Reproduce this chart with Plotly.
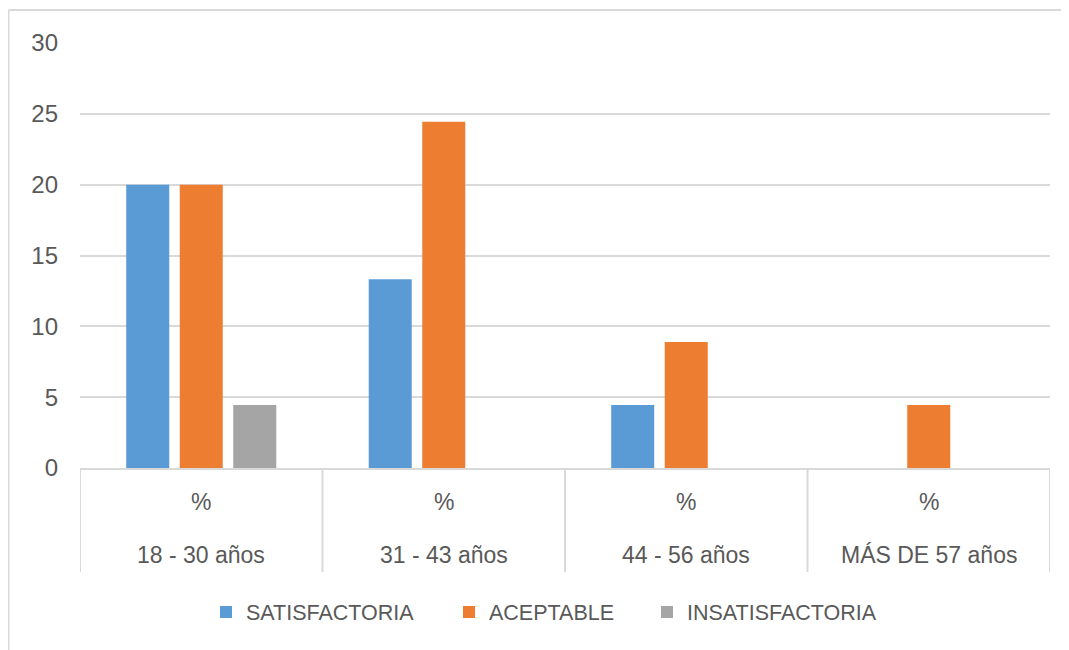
import plotly.graph_objects as go

# ---- data ----
categories = ["18 - 30 años", "31 - 43 años", "44 - 56 años", "MÁS DE 57 años"]
sub_label = "%"
series_names = ["SATISFACTORIA", "ACEPTABLE", "INSATISFACTORIA"]
satisfactoria = [20.0, 13.33, 4.44, 0]
aceptable = [20.0, 24.44, 8.89, 4.44]
insatisfactoria = [4.44, 0, 0, 0]
y_ticks = [0, 5, 10, 15, 20, 25, 30]

colors = ["#5B9BD5", "#ED7D31", "#A5A5A5"]
text_color = "#595959"
grid_color = "#D9D9D9"
font_family = "Liberation Sans, Arial, sans-serif"

# page geometry: the browser body has an 8px margin, so the figure is offset by 8px
OFF = 8
W, H = 1069 - OFF, 650 - OFF
# plot area in page pixels: x 80..1050, y 43..468
L, T = 80 - OFF, 43 - OFF
PW, PH = 970, 425
R = W - L - PW
B = H - T - PH


def px_x(px):
    return (px - OFF - L) / PW


def px_y(py):
    return (T + PH - (py - OFF)) / PH


fig = go.Figure()
legends = ["legend", "legend2", "legend3"]
for name, vals, col, lg in zip(series_names, [satisfactoria, aceptable, insatisfactoria], colors, legends):
    fig.add_trace(go.Bar(
        x=categories, y=vals, name=name, marker=dict(color=col, line=dict(width=0)),
        legend=lg, showlegend=True,
    ))

# category labels (two levels)
annotations = []
for i, c in enumerate(categories):
    annotations.append(dict(x=i, y=px_y(502), xref="x", yref="paper", text=sub_label,
                            showarrow=False, yanchor="middle", xanchor="center",
                            font=dict(size=23, color=text_color, family=font_family)))
    annotations.append(dict(x=i, y=px_y(555), xref="x", yref="paper", text=c,
                            showarrow=False, yanchor="middle", xanchor="center",
                            font=dict(size=23, color=text_color, family=font_family)))

shapes = []
for b in [-0.5, 0.5, 1.5, 2.5, 3.5]:
    shapes.append(dict(type="line", xref="x", yref="paper", x0=b, x1=b, y0=0, y1=px_y(572),
                       line=dict(color=grid_color, width=2)))
# chart border (top and left)
shapes.append(dict(type="line", xref="paper", yref="paper", x0=px_x(8.5), x1=px_x(1069),
                   y0=px_y(10), y1=px_y(10), line=dict(color=grid_color, width=2)))
shapes.append(dict(type="line", xref="paper", yref="paper", x0=px_x(8.5), x1=px_x(8.5),
                   y0=px_y(10), y1=px_y(650), line=dict(color=grid_color, width=2)))

leg_common = dict(orientation="h", yanchor="middle", xanchor="left", y=px_y(612),
                  font=dict(size=21.5, color=text_color, family=font_family),
                  bgcolor="rgba(0,0,0,0)")
marker_centers = [224, 467, 665]

fig.update_layout(
    width=W, height=H,
    margin=dict(l=L, r=R, t=T, b=B, autoexpand=False),
    paper_bgcolor="white", plot_bgcolor="white",
    barmode="group", bargap=0.338, bargroupgap=0.196,
    showlegend=True,
    font=dict(family=font_family, color=text_color),
    annotations=annotations,
    shapes=shapes,
    legend=dict(**leg_common, x=px_x(marker_centers[0] - 18)),
    legend2=dict(**leg_common, x=px_x(marker_centers[1] - 18)),
    legend3=dict(**leg_common, x=px_x(marker_centers[2] - 18)),
    xaxis=dict(range=[-0.5, 3.5], showticklabels=False, showgrid=False, zeroline=False,
               showline=True, linecolor=grid_color, linewidth=2, ticks=""),
    yaxis=dict(range=[0, 30], tickvals=y_ticks, showgrid=True, gridcolor=grid_color, gridwidth=1.5,
               zeroline=False, showline=False, ticks="", ticklabelstandoff=21,
               tickfont=dict(size=24, color=text_color, family=font_family)),
)

fig.write_html("out.html")
